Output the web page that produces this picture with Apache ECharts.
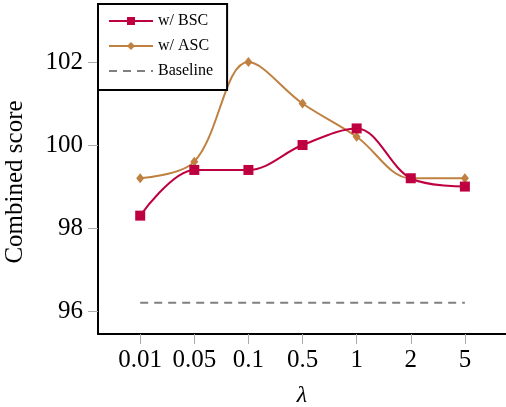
<!DOCTYPE html>
<html><head><meta charset="utf-8">
<script src="https://cdn.jsdelivr.net/npm/echarts@6/dist/echarts.min.js"></script>
<style>html,body{margin:0;padding:0;background:#fff}#c{width:506px;height:407px}</style>
</head><body><div id="c"></div>
<script>
const categories = ['0.01','0.05','0.1','0.5','1','2','5'];
const bsc = [98.3, 99.4, 99.4, 100.0, 100.4, 99.2, 99.0];
const asc = [99.2, 99.6, 102.0, 101.0, 100.2, 99.2, 99.2];
const baseline = [96.2, 96.2, 96.2, 96.2, 96.2, 96.2, 96.2];
const yTicks = [96, 98, 100, 102];

const idx = categories.map((c,i)=>i);
const pts = arr => arr.map((v,i)=>[i,v]);
const serif = 'Liberation Serif';
const chart = echarts.init(document.getElementById('c'));
chart.setOption({
  animation:false,
  textStyle:{fontFamily:serif},
  grid:{left:98,right:0,top:30,bottom:73,containLabel:false,outerBoundsMode:'none'},
  legend:{
    orient:'vertical', left:98, top:4,
    backgroundColor:'#fff', borderColor:'#000', borderWidth:2, borderRadius:0,
    padding:[9,14,11,10], itemGap:9, itemWidth:44, itemHeight:10,
    textStyle:{fontFamily:serif,fontSize:16,color:'#000'},
    data:[{name:'w/ BSC'},{name:'w/ ASC'},{name:'Baseline',itemStyle:{opacity:0}}], z:10
  },
  xAxis:{
    type:'value', min:-0.78, max:6.76,
    name:'λ', nameLocation:'middle', nameGap:50,
    nameTextStyle:{fontFamily:serif,fontSize:24,fontStyle:'italic',color:'#000'},
    axisLine:{show:true,onZero:false,lineStyle:{color:'#000',width:2}},
    axisTick:{show:true,customValues:idx,length:10,inside:false,lineStyle:{color:'#aaa',width:1}},
    axisLabel:{customValues:idx,formatter:v=>categories[Math.round(v)],fontFamily:serif,fontSize:25,color:'#000',margin:14},
    splitLine:{show:false}
  },
  yAxis:{
    type:'value', min:95.45, max:102.77,
    name:'Combined score', nameLocation:'middle', nameGap:70, nameRotate:90,
    nameTextStyle:{fontFamily:serif,fontSize:25,color:'#000'},
    axisLine:{show:true,onZero:false,lineStyle:{color:'#000',width:2}},
    axisTick:{show:true,customValues:yTicks,length:10,lineStyle:{color:'#aaa',width:1}},
    axisLabel:{customValues:yTicks,fontFamily:serif,fontSize:25,color:'#000',margin:15},
    splitLine:{show:false}
  },
  series:[
    {name:'w/ BSC',type:'line',data:pts(bsc),smooth:0.35,symbol:'rect',symbolSize:10,
     itemStyle:{color:'#bf0040'},lineStyle:{color:'#bf0040',width:2},z:3},
    {name:'w/ ASC',type:'line',data:pts(asc),smooth:0.35,symbol:'diamond',symbolSize:[8,10],
     itemStyle:{color:'#bf8040'},lineStyle:{color:'#bf8040',width:2},z:2},
    {name:'Baseline',type:'line',data:pts(baseline),symbol:'none',
     itemStyle:{color:'#808080'},lineStyle:{color:'#808080',width:2,type:[8,6]},z:1}
  ]
});
</script></body></html>
